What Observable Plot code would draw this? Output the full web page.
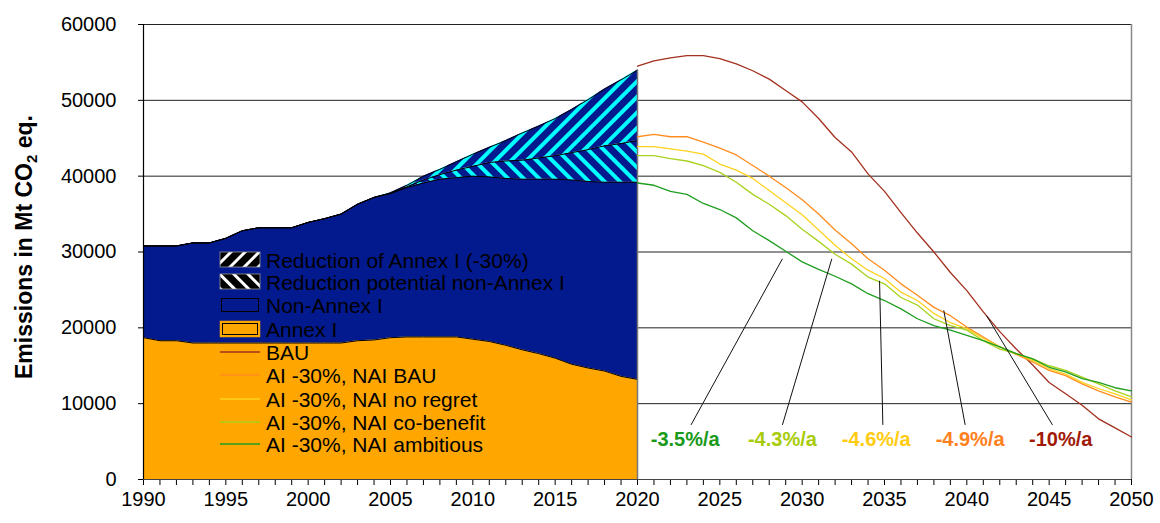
<!DOCTYPE html>
<html><head><meta charset="utf-8">
<script src="https://cdn.jsdelivr.net/npm/d3@7"></script>
<script src="https://cdn.jsdelivr.net/npm/@observablehq/plot@0.6"></script>
<style>
body{margin:0;background:#fff}
#chart{position:relative;width:1160px;height:523px}
svg{font-family:"Liberation Sans",Arial,sans-serif}
</style>
</head><body><div id="chart"></div>
<script>
// ---------- DATA ----------
const histYears = [1990,1991,1992,1993,1994,1995,1996,1997,1998,1999,2000,2001,2002,2003,2004,2005,2006,2007,2008,2009,2010,2011,2012,2013,2014,2015,2016,2017,2018,2019,2020];
const annexI    = [18700,18300,18300,18000,18000,18000,18000,18000,18000,18000,18000,18000,18000,18300,18400,18700,18800,18800,18800,18800,18500,18200,17700,17100,16600,16000,15200,14700,14300,13600,13200];
const nonAnnexI = [12100,12500,12500,13200,13200,13800,14800,15200,15200,15200,15900,16400,17000,18000,18800,19000,19700,20300,20800,21000,21500,21700,22000,22500,23000,23600,24300,24600,24900,25600,26000];
const redPotNAI = [0,0,0,0,0,0,0,0,0,0,0,0,0,0,0,50,100,400,600,1000,1300,1900,2300,2500,2800,3100,3600,4200,4800,5100,5500];
const redAI30   = [0,0,0,0,0,0,0,0,0,0,0,0,0,0,0,50,200,500,700,1100,1600,2000,2700,3600,4200,4900,5700,6600,7500,8400,9300];

const futYears = [2020,2021,2022,2023,2024,2025,2026,2027,2028,2029,2030,2031,2032,2033,2034,2035,2036,2037,2038,2039,2040,2041,2042,2043,2044,2045,2046,2047,2048,2049,2050];
const bau       = [54500,55200,55600,55900,55900,55500,54800,53900,52800,51300,49800,47600,45100,43200,40300,38000,35200,32500,30000,27300,24900,22100,19500,17200,15100,12800,11300,9800,8000,6800,5600];
const naiBau    = [45200,45500,45200,45200,44500,43700,42800,41400,40000,38500,36900,35000,32900,31100,29100,27600,25800,24300,22700,21600,20100,18800,17500,16500,15500,14400,13700,12600,11700,10900,10200];
const noRegret  = [43900,43900,43600,43300,42900,41600,40800,39700,38100,36500,34900,32900,30900,29100,27600,26500,24700,23600,21900,20700,19900,18600,17500,16600,15700,14600,13900,12800,12000,11300,10500];
const coBenefit = [42700,42700,42300,42000,41400,40500,39200,37600,36300,34800,33000,31400,29700,28400,26700,25800,24000,23000,21200,20300,19700,18300,17200,16600,15900,15000,14400,13500,12600,11700,10900];
const ambitious = [39100,38800,38000,37600,36400,35600,34500,32800,31500,30100,28700,27700,26800,25800,24500,23600,22500,21200,20300,19700,19000,18300,17500,16600,15900,14800,14200,13300,12800,12100,11700];

const lineNames  = ["BAU","AI -30%, NAI BAU","AI -30%, NAI no regret","AI -30%, NAI co-benefit","AI -30%, NAI ambitious"];
const lineColors = ["#a3301f","#ff8c1e","#ffd21e","#a8d21e","#1f9e1f"];

const rateLabels = ["-3.5%/a","-4.3%/a","-4.6%/a","-4.9%/a","-10%/a"];
const rateColors = ["#1a9a1a","#a8cc0a","#ffcc12","#ff8020","#a01a0a"];
const rateLabelYear = [2022.9, 2028.8, 2034.5, 2040.2, 2045.7];
const rateLabelValue = 5300;
const leaderFromYear = [2023.25, 2028.8, 2034.9, 2039.9, 2045.2];
const leaderFromValue = 7200;
const leaderToYear  = [2028.8, 2031.8, 2034.7, 2038.6, 2041.2];
const leaderToValue = [29100, 29100, 26200, 22300, 21600];

const yTicks = [0,10000,20000,30000,40000,50000,60000];
const xTicks = d3.range(1990, 2051);
const xLabelEvery = 5;

const legendItems = ["Reduction of Annex I (-30%)","Reduction potential non-Annex I","Non-Annex I","Annex I", ...lineNames];

// ---------- TABLES ----------
const hist = histYears.map((year, i) => {
  const a1 = annexI[i];
  const n1 = a1 + nonAnnexI[i];
  const r1 = n1 + redPotNAI[i];
  const t1 = r1 + redAI30[i];
  return {year, a1, n1, r1, t1};
});
const futureSeries = [bau, naiBau, noRegret, coBenefit, ambitious];
const fut = futureSeries.map(vals => futYears.map((year, i) => ({year, value: vals[i]})));
const leaders = rateLabels.map((t, i) => ({x1: leaderFromYear[i], y1: leaderFromValue, x2: leaderToYear[i], y2: leaderToValue[i]}));
const rates = rateLabels.map((t, i) => ({t, x: rateLabelYear[i], y: rateLabelValue, c: rateColors[i]}));

const NAVY = "#03198e", ORANGE = "#ffa600";

const chart = Plot.plot({
  width: 1160, height: 523,
  marginLeft: 143, marginRight: 29, marginTop: 24, marginBottom: 44,
  style: {fontFamily: "'Liberation Sans', Arial, sans-serif", fontSize: "20px", background: "#fff", overflow: "visible"},
  x: {domain: [1990, 2050], ticks: xTicks, tickFormat: d => d % xLabelEvery === 0 ? String(d) : "", tickSize: 6, tickPadding: 6, label: null},
  y: {domain: [0, 60000], ticks: yTicks, tickFormat: d => String(d), tickSize: 5, tickPadding: 22, label: null},
  marks: [
    Plot.ruleY(yTicks.slice(1), {stroke: "#222", strokeWidth: 1}),
    Plot.ruleX([2050], {y1: 0, y2: 60000, stroke: "#888", strokeWidth: 1.5}),
    Plot.areaY(hist, {x: "year", y1: 0, y2: "a1", fill: ORANGE}),
    Plot.areaY(hist, {x: "year", y1: "a1", y2: "n1", fill: NAVY}),
    Plot.areaY(hist, {x: "year", y1: "n1", y2: "r1", fill: "url(#hatchNAI)"}),
    Plot.areaY(hist, {x: "year", y1: "r1", y2: "t1", fill: "url(#hatchAI)"}),
    Plot.line(hist, {x: "year", y: "a1", stroke: "#000", strokeWidth: 1}),
    Plot.line(hist, {x: "year", y: "n1", stroke: "#000", strokeWidth: 1}),
    Plot.line(hist, {x: "year", y: "r1", stroke: "#000", strokeWidth: 1}),
    Plot.line(hist, {x: "year", y: "t1", stroke: "#000", strokeWidth: 1}),
    Plot.ruleX([hist[hist.length - 1]], {x: "year", y1: 0, y2: "t1", stroke: "#777", strokeWidth: 1.5}),
    ...fut.map((d, i) => Plot.line(d, {x: "year", y: "value", stroke: lineColors[i], strokeWidth: 1.3})),
    Plot.link(leaders, {x1: "x1", y1: "y1", x2: "x2", y2: "y2", stroke: "#111", strokeWidth: 1}),
    Plot.text(rates, {x: "x", y: "y", text: "t", fill: "c", fontSize: 20, fontWeight: "bold", textAnchor: "middle"}),
    Plot.ruleX([1990], {y1: 0, y2: 60000, stroke: "#000", strokeWidth: 1.2}),
    Plot.ruleY([0], {x1: 1990, x2: 2050, stroke: "#444", strokeWidth: 1.2})
  ]
});
document.getElementById("chart").appendChild(chart);

// ---------- PATTERNS ----------
const svg = d3.select(chart);
const defs = svg.insert("defs", ":first-child");
function stripes(id, angle, bg, fg, size, w) {
  const p = defs.append("pattern").attr("id", id).attr("patternUnits", "userSpaceOnUse")
    .attr("width", size).attr("height", size).attr("patternTransform", `rotate(${angle})`);
  p.append("rect").attr("width", size).attr("height", size).attr("fill", bg);
  p.append("rect").attr("width", w).attr("height", size).attr("fill", fg);
}
stripes("hatchAI", 45, NAVY, "#00ffff", 11, 4);
stripes("hatchNAI", -45, NAVY, "#00ffff", 11, 4);
stripes("legAI", 45, "#000", "#fff", 10, 3);
stripes("legNAI", -45, "#000", "#fff", 10, 3);

// ---------- Y TITLE ----------
const title = svg.append("text").attr("transform", "translate(32,247) rotate(-90)")
  .attr("text-anchor", "middle").attr("font-weight", "bold").attr("font-size", 23).attr("fill", "#000");
title.append("tspan").text("Emissions in Mt CO");
title.append("tspan").attr("font-size", 15).attr("dy", 5).text("2");
title.append("tspan").attr("dy", -5).text(" eq.");

// ---------- LEGEND ----------
const legendY = [260, 282, 305, 329, 352, 375, 399, 422, 444];
const lg = svg.append("g").attr("font-size", 21).attr("fill", "#000").attr("text-anchor", "start");
legendItems.forEach((name, i) => {
  const cy = legendY[i];
  if (i === 0 || i === 1) {
    lg.append("rect").attr("x", 220).attr("y", cy - 8).attr("width", 40).attr("height", 15)
      .attr("fill", i === 0 ? "url(#legAI)" : "url(#legNAI)").attr("stroke", "#999").attr("stroke-width", 0.8);
  } else if (i === 2) {
    lg.append("rect").attr("x", 221.5).attr("y", cy - 6.5).attr("width", 37).attr("height", 13)
      .attr("fill", NAVY).attr("stroke", "#000").attr("stroke-width", 1);
  } else if (i === 3) {
    lg.append("rect").attr("x", 220.5).attr("y", cy - 7.5).attr("width", 39).attr("height", 15)
      .attr("fill", ORANGE).attr("stroke", ORANGE).attr("stroke-width", 1.5);
    lg.append("rect").attr("x", 222.5).attr("y", cy - 5.5).attr("width", 35).attr("height", 11)
      .attr("fill", "none").attr("stroke", "#000").attr("stroke-width", 1);
  } else {
    lg.append("line").attr("x1", 220).attr("x2", 260).attr("y1", cy).attr("y2", cy)
      .attr("stroke", lineColors[i - 4]).attr("stroke-width", 1.3);
  }
  lg.append("text").attr("x", 266).attr("y", cy).attr("dy", "0.36em").attr("text-anchor", "start").text(name);
});
</script>
</body></html>
